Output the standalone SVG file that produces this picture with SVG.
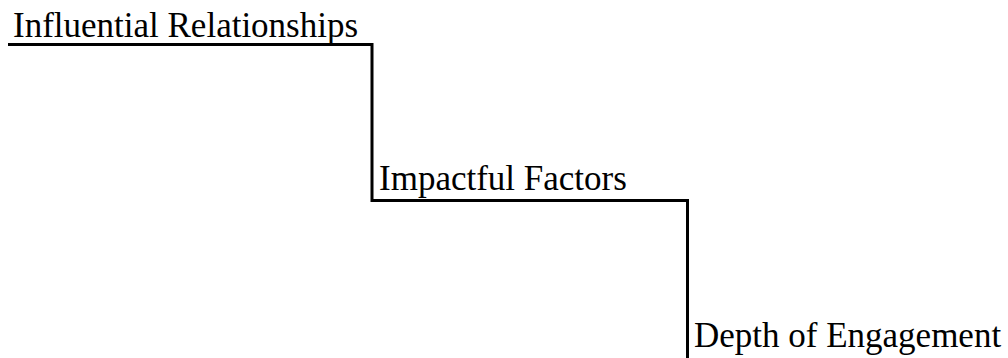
<svg xmlns="http://www.w3.org/2000/svg" width="1008" height="358" viewBox="0 0 1008 358">
<style>
.lbl{font-family:"Liberation Serif","Times New Roman",serif;font-size:35px;fill:#000}
.conn{fill:none;stroke:#000;stroke-width:3}
</style>
<rect width="1008" height="358" fill="#fff"/>
<g id="connectors">
<path class="conn" d="M8,44.5 H372 V200.5 H687.5 V358"/>
</g>
<g id="node-influential"><text class="lbl" x="13" y="37">Influential Relationships</text></g>
<g id="node-impactful"><text class="lbl" x="379" y="190">Impactful Factors</text></g>
<g id="node-depth"><text class="lbl" x="694" y="347">Depth of Engagement</text></g>
</svg>
